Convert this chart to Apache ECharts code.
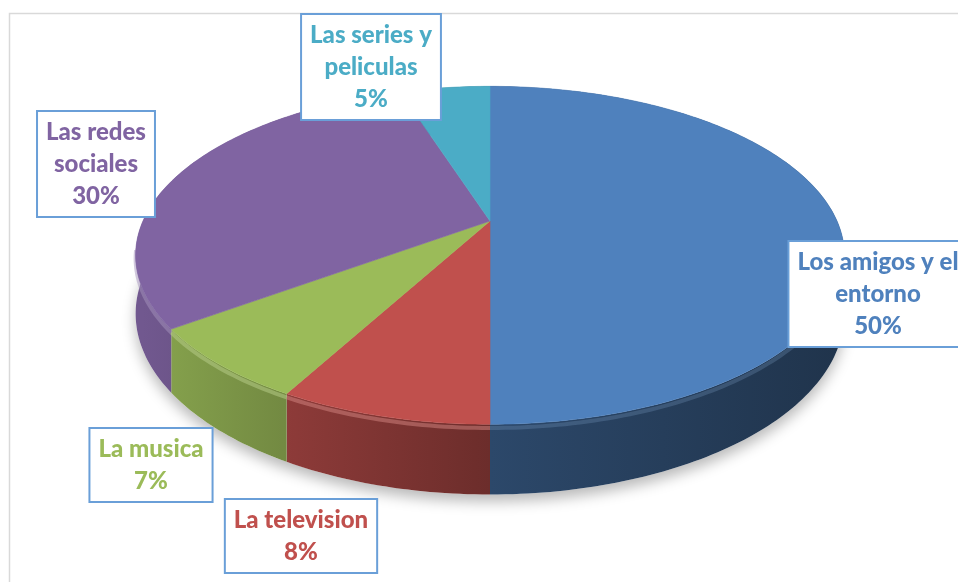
<!DOCTYPE html>
<html>
<head>
<meta charset="utf-8">
<title>Pie 3D</title>
<script src="https://cdn.jsdelivr.net/npm/echarts@6/dist/echarts.min.js"></script>
<style>
    html, body { margin: 0; padding: 0; background: #fff; }
    #chart { width: 958px; height: 582px; }
</style>
</head>
<body>
<div id="chart"></div>
<script>
// Data
const categories = ['Los amigos y el entorno', 'La television', 'La musica', 'Las redes sociales', 'Las series y peliculas'];
const values = [50, 8, 7, 30, 5];
const labelLines = [['Los amigos y el', 'entorno'], ['La television'], ['La musica'], ['Las redes', 'sociales'], ['Las series y', 'peliculas']];
const colors = ['#4F81BD', '#C0504D', '#9BBB59', '#8064A2', '#4BACC6'];

// Layout of the tilted pie (pixels) and label box centers
const pie = { cx: 490, cy: 221, rx: 347, ry: 162, persp: 0.203, depth: 56 };
const labelCenters = [[878, 294], [301, 536], [151, 465], [96, 164], [371, 67]];

const total = values.reduce((a, b) => a + b, 0);

/**
 * Project an angle (clockwise from 12 o'clock) on the pie rim to screen
 */
function project(t, dy) {
    const u = Math.sin(t);
    const v = -Math.cos(t);
    const f = 1 / (1 - pie.persp * v);
    return [pie.cx + pie.rx * u * f, pie.cy + pie.ry * v * f + dy * f];
}

function toRgb(hex) {
    const n = parseInt(hex.slice(1), 16);
    return [(n >> 16) & 255, (n >> 8) & 255, n & 255];
}

function shade(hex, k) {
    const c = toRgb(hex).map(x => Math.round(x * k));
    return `rgb(${c[0]},${c[1]},${c[2]})`;
}

function lighten(hex, k, alpha) {
    const c = toRgb(hex).map(x => Math.round(x + (255 - x) * k));
    return `rgba(${c[0]},${c[1]},${c[2]},${alpha})`;
}

function renderItem(params, api) {
    const i = params.dataIndex;
    const value = api.value(0);
    let start = 0;
    for (let k = 0; k < i; k++) start += values[k];
    const a0 = start / total * Math.PI * 2;
    const a1 = (start + value) / total * Math.PI * 2;
    const steps = Math.max(6, Math.ceil((a1 - a0) / (Math.PI / 180)));

    const rim = [];
    const base = [];
    const bevel = [];
    for (let s = 0; s <= steps; s++) {
        const t = a0 + (a1 - a0) * s / steps;
        rim.push(project(t, 0));
        base.push(project(t, pie.depth));
        if (Math.cos(t) < -0.15) bevel.push(project(t, 3));
    }

    const children = [];

    // Soft shadow under the whole pie, drawn once
    if (i === 0) {
        const ring = [];
        for (let s = 0; s <= 360; s++) ring.push(project(s / 180 * Math.PI, pie.depth));
        children.push({
            type: 'polygon',
            z2: -1,
            shape: { points: ring },
            style: {
                fill: '#fff',
                shadowBlur: 14,
                shadowOffsetY: 7,
                shadowColor: 'rgba(0,0,0,0.28)'
            }
        });
    }

    // Side wall
    children.push({
        type: 'polygon',
        z2: 1,
        shape: { points: rim.concat(base.slice().reverse()) },
        style: {
            fill: {
                type: 'linear',
                global: true,
                x: pie.cx - pie.rx, y: 0, x2: pie.cx + pie.rx, y2: 0,
                colorStops: [
                    { offset: 0, color: shade(colors[i], 0.88) },
                    { offset: 0.2, color: shade(colors[i], 0.74) },
                    { offset: 0.5, color: shade(colors[i], 0.56) },
                    { offset: 1, color: shade(colors[i], 0.40) }
                ]
            }
        }
    });

    // Light edge along the top of the wall
    if (bevel.length > 1) {
        children.push({
            type: 'polyline',
            z2: 2,
            shape: { points: bevel },
            style: { stroke: lighten(colors[i], 0.3, i === 0 ? 0.25 : 0.5), lineWidth: 4, fill: null }
        });
    }

    // Top face
    children.push({
        type: 'polygon',
        z2: 10,
        shape: { points: [[pie.cx, pie.cy]].concat(rim) },
        style: { fill: colors[i], stroke: colors[i], lineWidth: 0.6 }
    });

    // Data label
    const pct = Math.round(value / total * 100) + '%';
    children.push({
        type: 'text',
        z2: 30,
        style: {
            text: labelLines[i].concat([pct]).join('\n'),
            x: labelCenters[i][0],
            y: labelCenters[i][1],
            align: 'center',
            verticalAlign: 'middle',
            fill: colors[i],
            fontFamily: 'Lato',
            fontWeight: 900,
            fontSize: 24,
            lineHeight: 32,
            backgroundColor: '#fff',
            borderColor: '#6a9fd8',
            borderWidth: 2,
            padding: [4, 8]
        }
    });

    return { type: 'group', children };
}

const chart = echarts.init(document.getElementById('chart'));

chart.setOption({
    animation: false,
    backgroundColor: '#fff',
    graphic: [
        {
            type: 'polyline',
            z: 0,
            shape: { points: [[9.5, 600], [9.5, 13.5], [960, 13.5]] },
            style: { stroke: '#d9d9d9', lineWidth: 1.5, fill: null }
        }
    ],
    series: [
        {
            type: 'custom',
            coordinateSystem: 'none',
            renderItem: renderItem,
            data: values.map((v, i) => ({ name: categories[i], value: v }))
        }
    ]
});

window.addEventListener('resize', () => chart.resize());
</script>
</body>
</html>
